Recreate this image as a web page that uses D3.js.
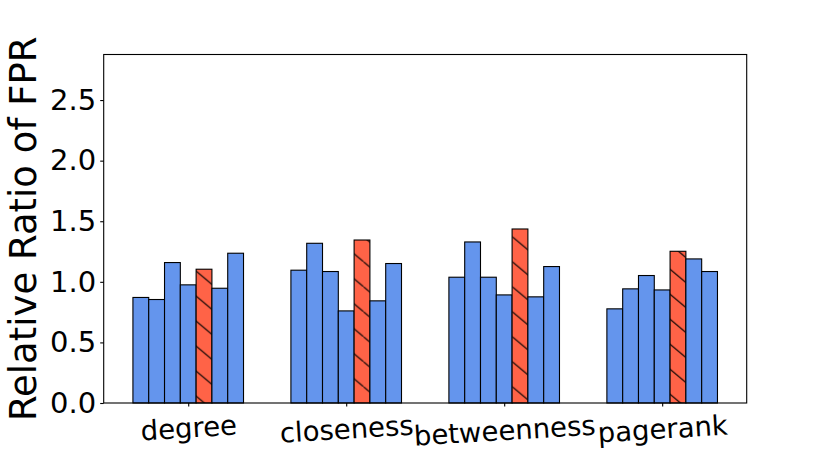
<!DOCTYPE html>
<html>
<head>
<meta charset="utf-8">
<script src="https://cdn.jsdelivr.net/npm/d3@7"></script>
<style>
  body { margin: 0; background: #fff; }
  text { font-family: "DejaVu Sans", sans-serif; fill: #000; }
</style>
</head>
<body>
<div id="chart"></div>
<script>

// data
var categories = ['degree', 'closeness', 'betweenness', 'pagerank'];
var degreeVals = [0.871, 0.854, 1.159, 0.975, 1.104, 0.947, 1.236];
var closenessVals = [1.096, 1.318, 1.085, 0.760, 1.345, 0.843, 1.151];
var betweennessVals = [1.038, 1.329, 1.038, 0.892, 1.436, 0.876, 1.126];
var pagerankVals = [0.777, 0.942, 1.052, 0.933, 1.252, 1.189, 1.085];
var yTicks = [0, 0.5, 1.0, 1.5, 2.0, 2.5];
var highlightIndex = 4;   // the hatched red bar in every group

var seriesVals = [degreeVals, closenessVals, betweennessVals, pagerankVals];

// set width and height
var svgWidth = 830;
var svgHeight = 453;

var chartMargin = {
    top: 54.5,
    right: 83.3,
    bottom: 50,
    left: 103.7
};

var chartWidth = svgWidth - chartMargin.right - chartMargin.left;
var chartHeight = svgHeight - chartMargin.top - chartMargin.bottom;

var svg = d3.select('#chart')
    .append('svg')
    .attr('width', svgWidth)
    .attr('height', svgHeight);

var chartGroup = svg.append('g')
    .attr('transform', `translate(${chartMargin.left}, ${chartMargin.top})`);

var barWidth = 0.1;
var nBars = degreeVals.length;

var xScale = d3.scaleLinear()
    .domain([-0.535, categories.length - 1 + 0.535])
    .range([0, chartWidth]);

var yScale = d3.scaleLinear()
    .domain([0, 2.876])
    .range([chartHeight, 0]);

// flatten to one row per bar
var bars = [];
seriesVals.forEach(function(vals, g) {
    vals.forEach(function(v, i) {
        bars.push({group: g, idx: i, value: v, pos: g + (i - (nBars - 1) / 2) * barWidth});
    });
});

// hatch pattern "\" for the red bars
var hatchH = 25;
var hatchW = hatchH / 0.84;
var defs = svg.append('defs');
var hatch = defs.append('pattern')
    .attr('id', 'hatch')
    .attr('patternUnits', 'userSpaceOnUse')
    .attr('x', 408.6)
    .attr('y', 182.2)
    .attr('width', hatchW)
    .attr('height', hatchH);
hatch.append('rect')
    .attr('width', hatchW)
    .attr('height', hatchH)
    .attr('fill', '#ff6347');
hatch.append('line')
    .attr('x1', -hatchW).attr('y1', -hatchH)
    .attr('x2', 2 * hatchW).attr('y2', 2 * hatchH)
    .attr('stroke', '#000')
    .attr('stroke-width', 1.1);

chartGroup.append('g').selectAll('rect')
    .data(bars)
    .enter()
    .append('rect')
    .attr('x', d => xScale(d.pos - barWidth / 2))
    .attr('y', d => yScale(d.value))
    .attr('width', d => xScale(barWidth) - xScale(0))
    .attr('height', d => yScale(0) - yScale(d.value))
    .attr('fill', d => d.idx === highlightIndex ? 'url(#hatch)' : '#6495ed')
    .attr('stroke', '#000')
    .attr('stroke-width', 1.1);

// frame
chartGroup.append('rect')
    .attr('x', 0)
    .attr('y', 0)
    .attr('width', chartWidth)
    .attr('height', chartHeight)
    .attr('fill', 'none')
    .attr('stroke', '#000')
    .attr('stroke-width', 1.1);

// y axis
var leftAxis = d3.axisLeft(yScale)
    .tickValues(yTicks)
    .tickFormat(d3.format('.1f'))
    .tickSize(3.5)
    .tickPadding(4);

var yAxisG = chartGroup.append('g').attr('id', 'y-axis').call(leftAxis);
yAxisG.select('.domain').remove();
yAxisG.selectAll('line').attr('stroke', '#000').attr('stroke-width', 1.1);
yAxisG.selectAll('text')
    .attr('font-size', '29px')
    .attr('font-family', 'DejaVu Sans')
    .attr('fill', '#000');

// x axis
var bottomAxis = d3.axisBottom(xScale)
    .tickValues(d3.range(categories.length))
    .tickFormat(d => categories[d])
    .tickSize(3.5)
    .tickPadding(3.5);

var xAxisG = chartGroup.append('g')
    .attr('id', 'x-axis')
    .attr('transform', `translate(0, ${chartHeight})`)
    .call(bottomAxis);
xAxisG.select('.domain').remove();
xAxisG.selectAll('line').attr('stroke', '#000').attr('stroke-width', 1.1);

// slightly rotated labels, top of the rotated box sits under the tick
var rot = 3.5;
var xFont = 27.5;
xAxisG.selectAll('text')
    .attr('font-size', xFont + 'px')
    .attr('font-family', 'DejaVu Sans')
    .attr('fill', '#000')
    .attr('dy', null)
    .attr('y', null)
    .attr('text-anchor', 'middle')
    .attr('transform', function() {
        var w = this.getComputedTextLength();
        var rad = rot * Math.PI / 180;
        var h = xFont * 1.164;
        var boxH = w * Math.sin(rad) + h * Math.cos(rad);
        var cy = 6 + boxH / 2;
        return `translate(0, ${cy}) rotate(${-rot}) translate(0, ${xFont * 0.35})`;
    });

// y label
chartGroup.append('text')
    .attr('transform', `translate(${36 - chartMargin.left}, ${chartHeight / 2}) rotate(-90)`)
    .attr('text-anchor', 'middle')
    .attr('font-size', '37px')
    .text('Relative Ratio of FPR');

</script>
</body>
</html>
